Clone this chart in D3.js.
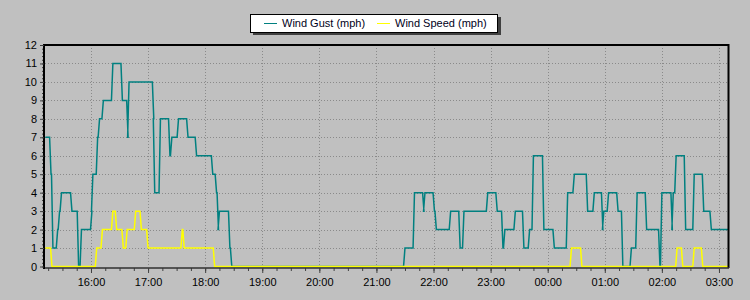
<!DOCTYPE html>
<html>
<head>
<meta charset="utf-8">
<script src="https://cdn.jsdelivr.net/npm/d3@7"></script>
<style>
  body { margin: 0; background: #c0c0c0; }
  svg { display: block; font-family: "Liberation Sans", Arial, sans-serif; }
</style>
</head>
<body>
<div id="chart"></div>
<script>
// readings (times are local, run past midnight)
const gustTimes = ["15:12", "15:18", "15:20", "15:22", "15:25", "15:27", "15:29", "15:40", "15:47", "15:50",
  "16:01", "16:02", "16:07", "16:09", "16:13", "16:23", "16:33", "16:39", "16:40", "17:06",
  "17:07", "17:13", "17:23", "17:25", "17:32", "17:42", "17:51", "18:08", "18:12", "18:14",
  "18:15", "18:26", "18:28", "21:30", "21:40", "21:50", "21:51", "22:01", "22:03", "22:18",
  "22:28", "22:32", "22:57", "23:07", "23:13", "23:15", "23:26", "23:35", "23:41", "23:45",
  "23:56", "00:07", "00:21", "00:28", "00:42", "00:49", "00:58", "00:59", "01:04", "01:14",
  "01:19", "01:28", "01:34", "01:44", "01:58", "02:00", "02:11", "02:12", "02:15", "02:25",
  "02:34", "02:44", "02:52", "03:10"];
const gustValues = [7, 5, 1, 1, 2, 3, 4, 3, 0, 2,
  3, 5, 7, 8, 9, 11, 9, 7, 10, 8,
  4, 8, 6, 7, 8, 7, 6, 5, 4, 2,
  3, 1, 0, 1, 4, 3, 4, 3, 2, 3,
  1, 3, 4, 3, 1, 2, 3, 1, 2, 6,
  2, 1, 4, 5, 3, 4, 2, 3, 4, 3,
  0, 1, 4, 2, 0, 4, 2, 4, 6, 2,
  5, 3, 2, 2];

const speedTimes = ["15:12", "15:19", "16:06", "16:12", "16:23", "16:27", "16:34", "16:38", "16:47", "16:53",
  "17:00", "17:36", "17:38", "18:10", "00:25", "00:36", "02:16", "02:22", "02:34", "02:43", "03:10"];
const speedValues = [1, 0, 1, 2, 3, 2, 1, 2, 3, 2,
  1, 2, 1, 0, 1, 0, 1, 0, 1, 0, 0];

const hourLabels = ["16:00", "17:00", "18:00", "19:00", "20:00", "21:00", "22:00", "23:00", "00:00", "01:00", "02:00", "03:00"];
const yTicks = [0, 1, 2, 3, 4, 5, 6, 7, 8, 9, 10, 11, 12];

const seriesNames = ["Wind Gust (mph)", "Wind Speed (mph)"];
const seriesColors = ["#008080", "#ffff00"];

function toDate(s) {
    const [h, m] = s.split(":").map(Number);
    // afternoon readings are on day 1, after midnight on day 2
    return new Date(2020, 0, h < 12 ? 2 : 1, h, m);
}

// the logger samples every minute or so, so each change ramps in over ~1.5 min
function withRamps(times, values) {
    const pts = [];
    times.forEach((t, i) => {
        const d = toDate(t);
        if (i > 0 && values[i] !== values[i - 1]) {
            pts.push({ t: new Date(d.getTime() - 90000), v: values[i - 1] });
        }
        pts.push({ t: d, v: values[i] });
    });
    return pts;
}

const width = 750;
const height = 300;

const svg = d3.select("#chart")
    .append("svg")
    .attr("width", width)
    .attr("height", height);

svg.append("rect")
    .attr("width", width)
    .attr("height", height)
    .attr("fill", "#c0c0c0");

const x = d3.scaleTime()
    .domain([new Date(2020, 0, 1, 15, 11, 40), new Date(2020, 0, 2, 3, 9, 30)])
    .range([45, 728]);

const y = d3.scaleLinear()
    .domain([0, 12])
    .range([266.5, 45]);

const plot = svg.append("g");

// grid
plot.selectAll(".hgrid")
    .data(yTicks.filter(d => d > 0 && d < 12))
    .enter()
    .append("line")
    .attr("x1", x.range()[0])
    .attr("x2", x.range()[1])
    .attr("y1", d => Math.round(y(d)) + 0.5)
    .attr("y2", d => Math.round(y(d)) + 0.5)
    .attr("stroke", "#8a8a8a")
    .attr("stroke-dasharray", "1,2");

plot.selectAll(".vgrid")
    .data(hourLabels)
    .enter()
    .append("line")
    .attr("x1", d => Math.round(x(toDate(d))) + 0.5)
    .attr("x2", d => Math.round(x(toDate(d))) + 0.5)
    .attr("y1", y(12))
    .attr("y2", y(0))
    .attr("stroke", "#8a8a8a")
    .attr("stroke-dasharray", "1,2");

// lines
const gustData = withRamps(gustTimes, gustValues);
const speedData = withRamps(speedTimes, speedValues);

const line = d3.line()
    .x(d => x(d.t))
    .y(d => y(d.v));

plot.append("path")
    .datum(gustData)
    .attr("d", line)
    .attr("fill", "none")
    .attr("stroke", seriesColors[0])
    .attr("stroke-width", 1.5);

plot.append("path")
    .datum(speedData)
    .attr("d", line)
    .attr("fill", "none")
    .attr("stroke", seriesColors[1])
    .attr("stroke-width", 1.5);

// frame
svg.append("line")
    .attr("x1", 44).attr("x2", 729).attr("y1", 45).attr("y2", 45)
    .attr("stroke", "#000").attr("stroke-width", 2);
svg.append("line")
    .attr("x1", 728.5).attr("x2", 728.5).attr("y1", 44).attr("y2", 268)
    .attr("stroke", "#000").attr("stroke-width", 2);

// x axis
const xAxis = d3.axisBottom(x)
    .tickValues(hourLabels.map(toDate))
    .tickFormat(d3.timeFormat("%H:%M"))
    .tickSize(5)
    .tickPadding(5);

const xMinor = d3.axisBottom(x)
    .ticks(d3.timeMinute.every(15))
    .tickFormat("")
    .tickSize(3);

const gxMinor = svg.append("g")
    .attr("transform", "translate(0,268)")
    .call(xMinor);
gxMinor.select(".domain").remove();
gxMinor.selectAll("line").attr("stroke", "#404040");

const gx = svg.append("g")
    .attr("transform", "translate(0,268)")
    .call(xAxis);
gx.select(".domain").attr("stroke", "#303030").attr("stroke-width", 1.5)
    .attr("d", `M44,0H729`);
gx.selectAll("line").attr("stroke", "#404040");
gx.selectAll("text")
    .attr("fill", "#000")
    .style("font-size", "11px");

// y axis
const yMinor = d3.axisLeft(y)
    .tickValues(d3.range(0, 60).map(i => i / 5))
    .tickFormat("")
    .tickSize(2);
const gyMinor = svg.append("g")
    .attr("transform", "translate(44,0)")
    .call(yMinor);
gyMinor.select(".domain").remove();
gyMinor.selectAll("line").attr("stroke", "#404040");

const gy = svg.append("g")
    .attr("transform", "translate(44,0)")
    .call(d3.axisLeft(y).tickValues(yTicks).tickSize(4).tickPadding(3));
gy.select(".domain").attr("stroke", "#000").attr("stroke-width", 2)
    .attr("d", "M0,44V269");
gy.selectAll("line").attr("stroke", "#404040");
gy.selectAll("text")
    .attr("fill", "#000")
    .style("font-size", "11px");

// legend
const legend = svg.append("g");
legend.append("rect")
    .attr("x", 253).attr("y", 17)
    .attr("width", 248).attr("height", 18)
    .attr("fill", "#404040");
legend.append("rect")
    .attr("x", 250.5).attr("y", 14.5)
    .attr("width", 247).attr("height", 18)
    .attr("fill", "#fff")
    .attr("stroke", "#000");

const legendX = [264, 377];
legend.selectAll(".lg-line")
    .data(seriesNames)
    .enter()
    .append("line")
    .attr("x1", (d, i) => legendX[i])
    .attr("x2", (d, i) => legendX[i] + 13)
    .attr("y1", 23.5)
    .attr("y2", 23.5)
    .attr("stroke", (d, i) => seriesColors[i])
    .attr("stroke-width", 1);

legend.selectAll(".lg-text")
    .data(seriesNames)
    .enter()
    .append("text")
    .attr("x", (d, i) => legendX[i] + 18)
    .attr("y", 27)
    .attr("fill", "#000020")
    .style("font-size", "11px")
    .text(d => d);
</script>
</body>
</html>
